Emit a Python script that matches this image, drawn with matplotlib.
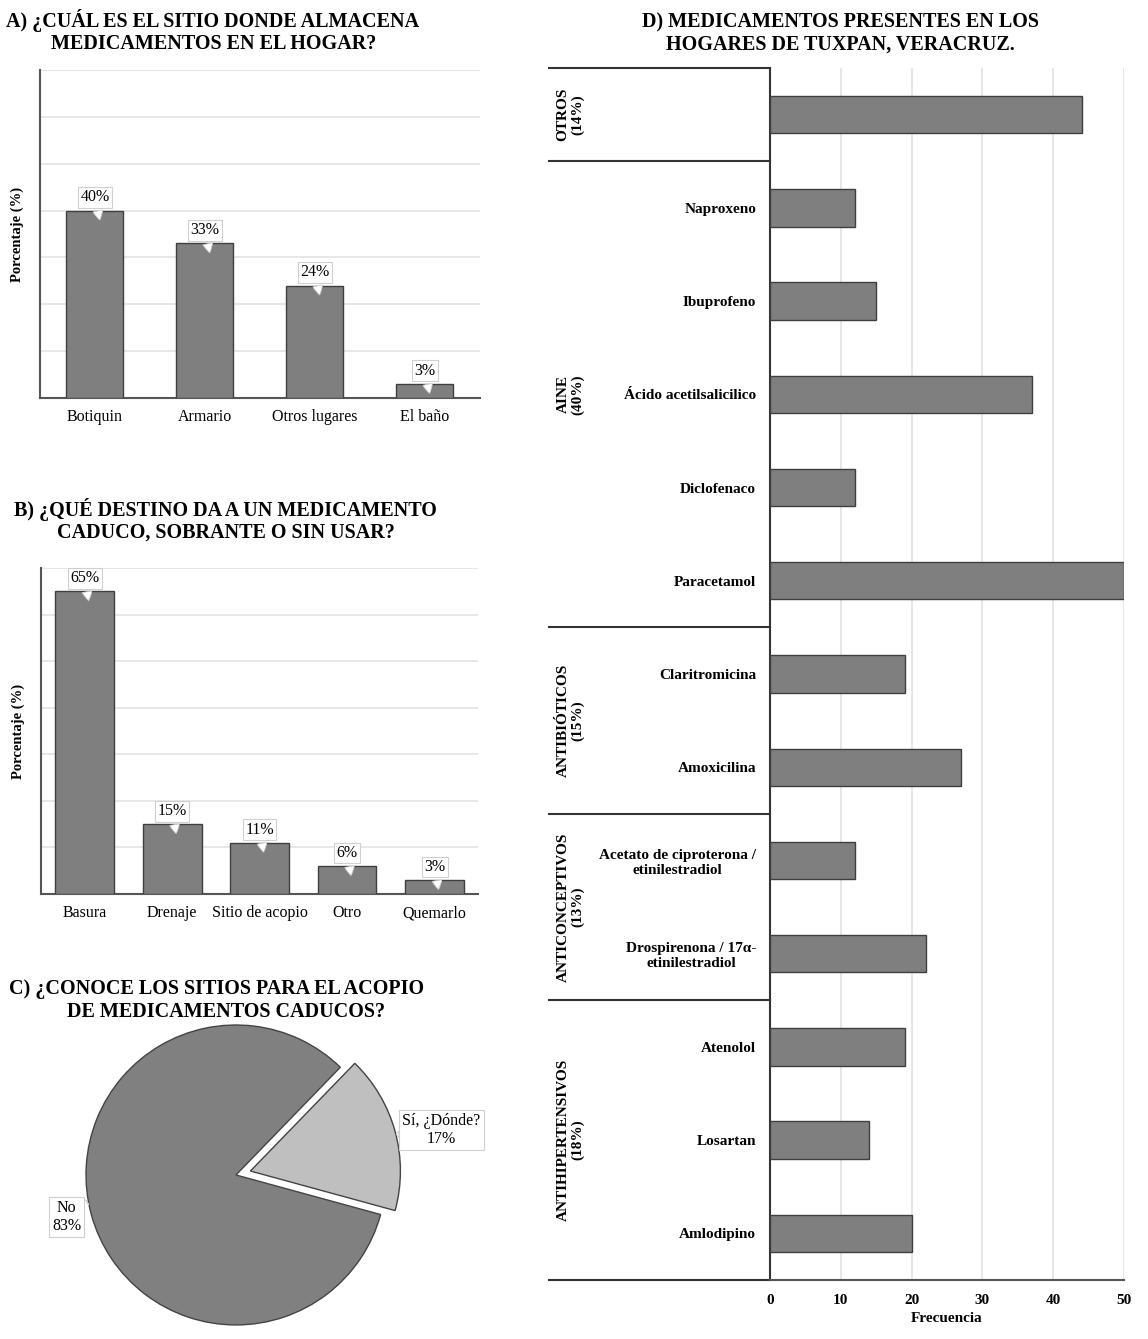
import numpy as np
import matplotlib.pyplot as plt
from matplotlib.transforms import blended_transform_factory

plt.rcParams['font.family'] = ['Liberation Serif', 'DejaVu Serif']

# A) storage place
lugares = ['Botiquin', 'Armario', 'Otros lugares', 'El baño']
lugares_pct = [40, 33, 24, 3]

# B) destination of expired medicine
destinos = ['Basura', 'Drenaje', 'Sitio de acopio', 'Otro', 'Quemarlo']
destinos_pct = [65, 15, 11, 6, 3]

# C) knows collection sites
acopio_labels = ['Sí, ¿Dónde?', 'No']
acopio_pct = [17, 83]

# D) medicines present in homes
medicamentos = ['', 'Naproxeno', 'Ibuprofeno', 'Ácido acetilsalicilico', 'Diclofenaco',
                'Paracetamol', 'Claritromicina', 'Amoxicilina',
                'Acetato de ciproterona /\netinilestradiol', 'Drospirenona / 17α-\netinilestradiol',
                'Atenolol', 'Losartan', 'Amlodipino']
frecuencia = [44, 12, 15, 37, 12, 50, 19, 27, 12, 22, 19, 14, 20]
grupos = ['OTROS\n(14%)', 'AINE\n(40%)', 'ANTIBIÓTICOS\n(15%)', 'ANTICONCEPTIVOS\n(13%)', 'ANTIHIPERTENSIVOS\n(18%)']
grupo_n = [1, 5, 2, 2, 3]

BAR = '#7f7f7f'
EDGE = '#3f3f3f'
GRID = '#e3e3e3'
TFS = 14.5


def bar_panel(ax, cats, vals, width):
    x = np.arange(len(cats))
    ax.bar(x, vals, width=width, color=BAR, edgecolor=EDGE, linewidth=1.0, zorder=3)
    ax.set_ylim(0, 70)
    ax.set_xlim(-0.5, len(cats) - 0.5)
    ax.set_yticks(np.arange(0, 71, 10))
    ax.set_yticklabels([])
    ax.tick_params(axis='y', length=0)
    ax.tick_params(axis='x', length=0, labelsize=11.5, pad=8)
    ax.set_xticks(x)
    ax.set_xticklabels(cats)
    ax.grid(axis='y', color=GRID, linewidth=1.2, zorder=0)
    for s in ['top', 'right']:
        ax.spines[s].set_visible(False)
    for s in ['left', 'bottom']:
        ax.spines[s].set_color('#555555')
        ax.spines[s].set_linewidth(1.5)
    ax.set_ylabel('Porcentaje (%)', fontsize=10.5, fontweight='bold', labelpad=8)
    for xi, v in zip(x, vals):
        ax.annotate(f'{v}%', xy=(xi + 0.05, v - 2.6), xytext=(xi, v + 2.8),
                    ha='center', va='center', fontsize=11.5, zorder=5,
                    bbox=dict(boxstyle='square,pad=0.15', fc='white', ec='#d0d0d0', lw=0.8),
                    arrowprops=dict(arrowstyle='wedge,tail_width=0.6,shrink_factor=0.6',
                                    fc='white', ec='#d0d0d0', lw=0.6))


fig = plt.figure(figsize=(11.48, 13.39), dpi=100)

# panel A
axA = fig.add_axes([0.0348, 0.7028, 0.383, 0.2449])
bar_panel(axA, lugares, lugares_pct, 0.52)
fig.text(0.005, 0.9845, 'A) ¿CUÁL ES EL SITIO DONDE ALMACENA', fontsize=TFS, fontweight='bold', va='center')
fig.text(0.044, 0.9675, 'MEDICAMENTOS EN EL HOGAR?', fontsize=TFS, fontweight='bold', va='center')

# panel B
axB = fig.add_axes([0.0357, 0.3323, 0.381, 0.2435])
bar_panel(axB, destinos, destinos_pct, 0.67)
fig.text(0.012, 0.6195, 'B) ¿QUÉ DESTINO DA A UN MEDICAMENTO', fontsize=TFS, fontweight='bold', va='center')
fig.text(0.050, 0.6025, 'CADUCO, SOBRANTE O SIN USAR?', fontsize=TFS, fontweight='bold', va='center')

# panel C
axC = fig.add_axes([0.0422, -0.0175, 0.3267, 0.280])
wedges, _ = axC.pie(acopio_pct, startangle=-15.3, explode=[0.1, 0],
                    colors=['#bfbfbf', '#808080'],
                    wedgeprops=dict(edgecolor='#444444', linewidth=1.0))
axC.set_xlim(-1.25, 1.25)
axC.set_ylim(-1.25, 1.25)
axC.annotate(f'{acopio_labels[0]}\n{acopio_pct[0]}%', xy=(1.07, 0.27), xytext=(1.37, 0.3),
             ha='center', va='center', fontsize=11.5, annotation_clip=False,
             bbox=dict(boxstyle='square,pad=0.2', fc='white', ec='#d0d0d0', lw=0.8),
             arrowprops=dict(arrowstyle='wedge,tail_width=0.4,shrink_factor=0.6',
                             fc='white', ec='#d0d0d0', lw=0.6))
axC.annotate(f'{acopio_labels[1]}\n{acopio_pct[1]}%', xy=(-0.99, -0.18), xytext=(-1.13, -0.28),
             ha='center', va='center', fontsize=11.5, annotation_clip=False,
             bbox=dict(boxstyle='square,pad=0.2', fc='white', ec='#d0d0d0', lw=0.8),
             arrowprops=dict(arrowstyle='wedge,tail_width=0.4,shrink_factor=0.6',
                             fc='white', ec='#d0d0d0', lw=0.6))
fig.text(0.008, 0.2615, 'C) ¿CONOCE LOS SITIOS PARA EL ACOPIO', fontsize=TFS, fontweight='bold', va='center')
fig.text(0.058, 0.2445, 'DE MEDICAMENTOS CADUCOS?', fontsize=TFS, fontweight='bold', va='center')

# panel D
axD = fig.add_axes([0.6707, 0.0441, 0.3084, 0.9051])
y = np.arange(len(medicamentos))
axD.barh(y, frecuencia, height=0.4, color=BAR, edgecolor=EDGE, linewidth=1.0, zorder=3)
axD.set_ylim(len(medicamentos) - 0.5, -0.5)
axD.set_xlim(0, 50)
axD.set_xticks(np.arange(0, 51, 10))
axD.tick_params(axis='x', length=0, labelsize=11, pad=10)
for lab in axD.get_xticklabels():
    lab.set_fontweight('bold')
axD.set_yticks(y)
axD.set_yticklabels(medicamentos, fontsize=11, fontweight='bold', multialignment='center')
axD.tick_params(axis='y', length=0, pad=10)
axD.grid(axis='x', color=GRID, linewidth=1.2, zorder=0)
for s in ['top', 'right']:
    axD.spines[s].set_visible(False)
axD.spines['left'].set_color('#333333')
axD.spines['left'].set_linewidth(1.5)
axD.spines['bottom'].set_color('#555555')
axD.spines['bottom'].set_linewidth(1.5)
axD.set_xlabel('Frecuencia', fontsize=11, fontweight='bold', labelpad=4)

tr = blended_transform_factory(axD.transAxes, axD.transData)
x_left = (549 - 770) / 354
bounds = np.concatenate([[0], np.cumsum(grupo_n)]) - 0.5
for b in bounds:
    axD.plot([x_left, 0], [b, b], transform=tr, color='#333333', lw=1.5, clip_on=False)
for g, lo, hi in zip(grupos, bounds[:-1], bounds[1:]):
    axD.text(x_left + 0.06, (lo + hi) / 2, g, transform=tr, rotation=90, ha='center', va='center',
             fontsize=11, fontweight='bold', multialignment='center', linespacing=1.1)

fig.text(0.732, 0.9835, 'D) MEDICAMENTOS PRESENTES EN LOS', fontsize=TFS, fontweight='bold', ha='center', va='center')
fig.text(0.732, 0.9665, 'HOGARES DE TUXPAN, VERACRUZ.', fontsize=TFS, fontweight='bold', ha='center', va='center')

fig.savefig('out.png', dpi=100)
